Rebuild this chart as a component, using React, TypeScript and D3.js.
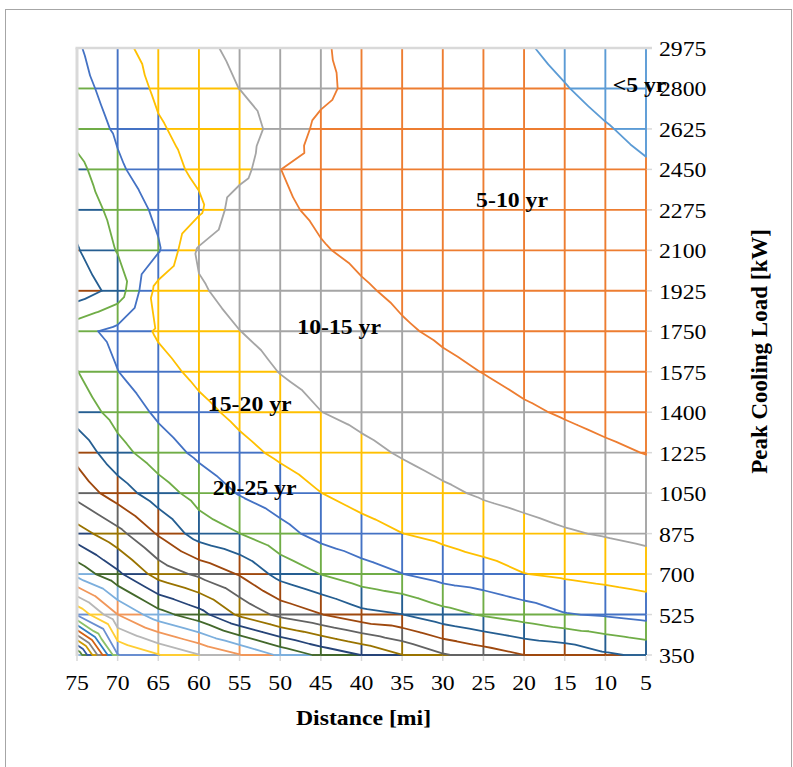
import React from "react";
import * as d3 from "d3";

// x categories (mi) and y series (kW) of the surface
const distances = [75, 70, 65, 60, 55, 50, 45, 40, 35, 30, 25, 20, 15, 10, 5];
const loads = [350, 525, 700, 875, 1050, 1225, 1400, 1575, 1750, 1925, 2100, 2275, 2450, 2625, 2800, 2975];

// simple payback [yr] per load row, distance 75 -> 5 mi
const p350 = [125, 85.3, 80.3, 75.2, 70.3, 64.1, 58.9, 54.9, 50.1, 45.5, 42.8, 40.05, 39.0, 35.8, 34.0];
const p525 = [84.5, 70, 62, 57, 49, 43.7, 40.2, 36.5, 35.1, 31.8, 29.5, 27.6, 25.3, 24.5, 23.3];
const p700 = [63.4, 56, 48, 44, 39.6, 33.2, 29.9, 27.1, 25.1, 22.97, 22.0, 20.1, 19.25, 18.36, 17.4];
const p875 = [52.2, 46.6, 39.5, 32.67, 30.05, 26.6, 23.45, 21.7, 20.05, 18.9, 17.3, 16.34, 15.39, 14.69, 13.92];
const p1050 = [43.2, 37.56, 32.3, 28.07, 24.68, 22.37, 20.05, 18.3, 16.95, 15.67, 14.53, 13.71, 12.9, 12.24, 11.57];
const p1225 = [38.4, 31.7, 27.4, 23.98, 21.3, 19.18, 17.6, 16.0, 14.65, 13.47, 12.6, 11.8, 11.1, 10.49, 9.92];
const p1400 = [32.8, 28.2, 24.15, 21.2, 18.9, 16.9, 15.05, 13.93, 12.9, 11.86, 11.1, 10.36, 9.76, 9.18, 8.71];
const p1575 = [30.15, 25.1, 21.57, 18.88, 16.84, 14.88, 13.66, 12.44, 11.52, 10.6, 9.94, 9.24, 8.73, 8.16, 7.78];
const p1750 = [26.6, 23.5, 19.4, 17.0, 15.05, 13.6, 12.3, 11.26, 10.3, 9.6, 9.0, 8.34, 7.89, 7.34, 7.03];
const p1925 = [38.1, 33.0, 18.0, 15.53, 13.41, 12.3, 11.3, 10.29, 9.53, 8.78, 8.23, 7.61, 7.19, 6.7, 6.42];
const p2100 = [35.4, 29.7, 25.5, 14.3, 12.5, 11.3, 10.19, 9.48, 8.79, 8.1, 7.6, 7.0, 6.62, 6.17, 5.9];
const p2275 = [33.1, 28.3, 24.0, 21.0, 11.6, 10.42, 9.56, 8.79, 8.15, 7.52, 7.05, 6.48, 6.13, 5.71, 5.47];
const p2450 = [31.5, 25.75, 22.2, 18.87, 17.13, 10.02, 9.0, 8.2, 7.61, 7.02, 6.59, 6.04, 5.71, 5.33, 5.1];
const p2625 = [28.0, 24.3, 20.5, 18.2, 17.76, 13.0, 8.9, 7.9, 7.3, 6.59, 6.19, 5.66, 5.35, 5.06, 4.78];
const p2800 = [26.7, 22.9, 19.2, 17.2, 14.95, 12.9, 11.2, 8.3, 7.2, 6.21, 5.84, 5.32, 5.04, 4.73, 4.5];
const p2975 = [25.6, 21.0, 18.5, 16.0, 14.0, 12.3, 10.5, 8.6, 7.0, 5.88, 5.53, 5.085, 4.77, 4.49, 4.25];

const paybackRows = [p350, p525, p700, p875, p1050, p1225, p1400, p1575, p1750, p1925, p2100, p2275, p2450, p2625, p2800, p2975];

const bandStep = 5;
// excel series colours, one per 5 yr band
const bandColors = [
  "#5B9BD5", "#ED7D31", "#A5A5A5", "#FFC000", "#4472C4", "#70AD47",
  "#255E91", "#9E480E", "#636363", "#997300", "#264478", "#43682B",
  "#7CAFDD", "#F1975A", "#B7B7B7", "#FFCD33", "#698ED0", "#8CC168",
  "#327DC2", "#D26012", "#848484", "#CC9A00", "#335AA1", "#5A8A39",
  "#8CB5E2", "#F4B183",
];

const bandLabels = [
  { text: "<5 yr", distance: 9.1, load: 2785 },
  { text: "5-10 yr", distance: 25.9, load: 2289 },
  { text: "10-15 yr", distance: 47.9, load: 1737 },
  { text: "15-20 yr", distance: 58.9, load: 1405 },
  { text: "20-25 yr", distance: 58.3, load: 1042 },
];

type Node = { d: number; l: number; v: number };

const App = () => {
  const width = 793;
  const height = 767;
  const margin = { top: 48, right: 147, bottom: 112, left: 77 };
  const font = "'Liberation Serif', 'Times New Roman', serif";
  const axisGray = "#D9D9D9";

  const x = d3.scaleLinear().domain([75, 5]).range([margin.left, width - margin.right]);
  const y = d3.scaleLinear().domain([350, 2975]).range([height - margin.bottom, margin.top]);

  const bandOf = (v: number) =>
    Math.max(0, Math.min(bandColors.length - 1, Math.floor(v / bandStep)));
  const node = (ri: number, ci: number): Node => ({ d: distances[ci], l: loads[ri], v: paybackRows[ri][ci] });

  // wireframe: each grid edge split where it crosses a band boundary
  const gridPieces: { key: string; x1: number; y1: number; x2: number; y2: number; color: string }[] = [];
  const pushEdge = (a: Node, b: Node, key: string) => {
    const ts = [0, 1];
    const lo = Math.min(a.v, b.v);
    const hi = Math.max(a.v, b.v);
    for (let k = Math.floor(lo / bandStep) + 1; k * bandStep < hi; k++) {
      ts.push((k * bandStep - a.v) / (b.v - a.v));
    }
    ts.sort((p, q) => p - q);
    for (let i = 0; i < ts.length - 1; i++) {
      const t0 = ts[i];
      const t1 = ts[i + 1];
      const vm = a.v + ((b.v - a.v) * (t0 + t1)) / 2;
      gridPieces.push({
        key: `${key}-${i}`,
        x1: x(a.d + (b.d - a.d) * t0),
        y1: y(a.l + (b.l - a.l) * t0),
        x2: x(a.d + (b.d - a.d) * t1),
        y2: y(a.l + (b.l - a.l) * t1),
        color: bandColors[bandOf(vm)],
      });
    }
  };
  for (let r = 0; r < loads.length - 1; r++) {
    for (let c = 0; c < distances.length - 1; c++) pushEdge(node(r, c), node(r, c + 1), `h${r}-${c}`);
  }
  for (let c = 1; c < distances.length; c++) {
    for (let r = 0; r < loads.length - 1; r++) pushEdge(node(r, c), node(r + 1, c), `v${c}-${r}`);
  }

  // contour lines, each cell cut into 4 triangles around its centre
  const maxV = d3.max(paybackRows.flat()) as number;
  const levels = d3.range(bandStep, maxV, bandStep);
  const paths = levels.map(() => "");
  for (let r = 0; r < loads.length - 1; r++) {
    for (let c = 0; c < distances.length - 1; c++) {
      const a = node(r, c);
      const b = node(r, c + 1);
      const cc = node(r + 1, c + 1);
      const dd = node(r + 1, c);
      const m = { d: (a.d + b.d) / 2, l: (a.l + dd.l) / 2, v: (a.v + b.v + cc.v + dd.v) / 4 };
      const tris = [[a, b, m], [b, cc, m], [cc, dd, m], [dd, a, m]];
      levels.forEach((level, li) => {
        tris.forEach((tri) => {
          const pts: [number, number][] = [];
          for (let i = 0; i < 3; i++) {
            const p = tri[i];
            const q = tri[(i + 1) % 3];
            if (p.v >= level !== q.v >= level) {
              const t = (level - p.v) / (q.v - p.v);
              pts.push([x(p.d + (q.d - p.d) * t), y(p.l + (q.l - p.l) * t)]);
            }
          }
          if (pts.length === 2) {
            paths[li] += `M${pts[0][0].toFixed(2)},${pts[0][1].toFixed(2)}L${pts[1][0].toFixed(2)},${pts[1][1].toFixed(2)}`;
          }
        });
      });
    }
  }

  const x0 = x(75);
  const x1 = x(5);
  const y0 = y(350);
  const y1 = y(2975);

  return (
    <svg
      width={width}
      height={height}
      style={{ position: "absolute", left: 0, top: 0, background: "#fff" }}
    >
      <rect x={5.5} y={9.5} width={786} height={770} fill="#fff" stroke="#A6A6A6" strokeWidth={1} />

      <line x1={x0} x2={x1} y1={y0} y2={y0} stroke={axisGray} strokeWidth={2} />

      {gridPieces.map((p) => (
        <line key={p.key} x1={p.x1} y1={p.y1} x2={p.x2} y2={p.y2} stroke={p.color} strokeWidth={1.9} />
      ))}

      {levels.map((level, li) => (
        <path
          key={level}
          d={paths[li]}
          fill="none"
          stroke={bandColors[li]}
          strokeWidth={1.8}
          strokeLinecap="round"
        />
      ))}

      <line x1={x0} x2={x0} y1={y1} y2={y0 + 1} stroke={axisGray} strokeWidth={3} />
      <line x1={x0 - 1.5} x2={x1 + 6} y1={y1} y2={y1} stroke={axisGray} strokeWidth={2.5} />

      {loads.map((l) => (
        <line key={`yt${l}`} x1={x1 + 1} x2={x1 + 6} y1={y(l)} y2={y(l)} stroke={axisGray} strokeWidth={1.5} />
      ))}
      {distances.map((d) => (
        <line key={`xt${d}`} x1={x(d)} x2={x(d)} y1={y0 + 1} y2={y0 + 6} stroke={axisGray} strokeWidth={1.5} />
      ))}

      {loads.map((l) => (
        <text
          key={`yl${l}`}
          transform={`translate(${x1 + 13},${y(l) + 8}) scale(1.08,1)`}
          fontFamily={font}
          fontSize={22}
          fill="#000"
        >
          {l}
        </text>
      ))}
      {distances.map((d) => (
        <text
          key={`xl${d}`}
          transform={`translate(${x(d)},${y0 + 35}) scale(1.08,1)`}
          textAnchor="middle"
          fontFamily={font}
          fontSize={22}
          fill="#000"
        >
          {d}
        </text>
      ))}

      {bandLabels.map((b) => (
        <text
          key={b.text}
          transform={`translate(${x(b.distance)},${y(b.load)}) scale(1.08,1)`}
          fontFamily={font}
          fontSize={22}
          fontWeight="bold"
          fill="#000"
        >
          {b.text}
        </text>
      ))}

      <text
        transform={`translate(${(x0 + x1) / 2 + 2},725) scale(1.08,1)`}
        textAnchor="middle"
        fontFamily={font}
        fontSize={22}
        fontWeight="bold"
      >
        Distance [mi]
      </text>
      <text
        transform={`translate(767,${(y0 + y1) / 2}) rotate(-90)`}
        textAnchor="middle"
        fontFamily={font}
        fontSize={23}
        fontWeight="bold"
      >
        Peak Cooling Load [kW]
      </text>
    </svg>
  );
};

export default App;
